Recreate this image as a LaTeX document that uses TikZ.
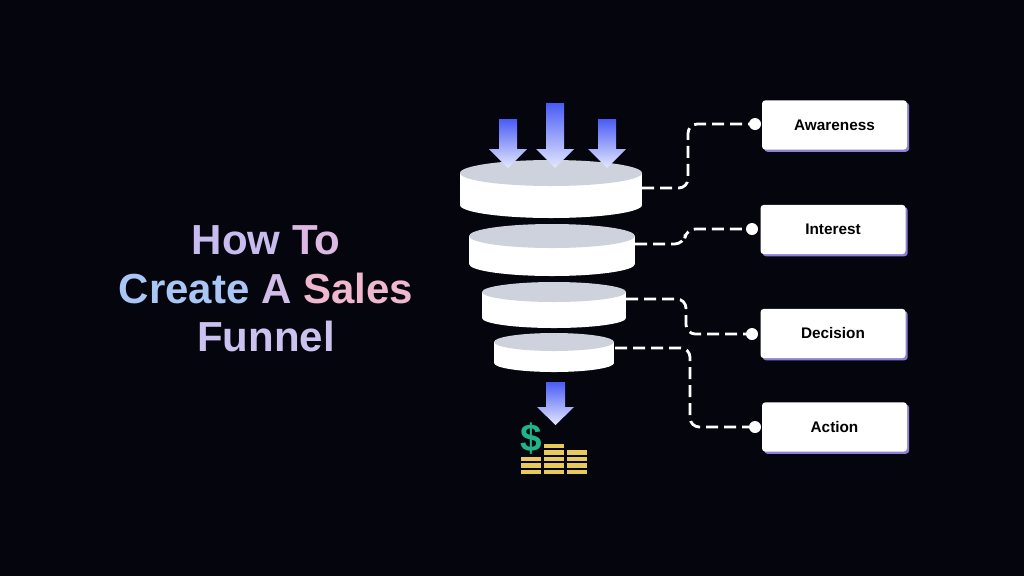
\documentclass[tikz,border=0pt]{standalone}
\usepackage{fontspec}
\setmainfont{Liberation Sans}
\usetikzlibrary{shadows}
\definecolor{bg}{HTML}{05050D}
\definecolor{diskTop}{HTML}{CDD2DC}
\definecolor{arrA}{HTML}{4A5CF5}
\definecolor{arrB}{HTML}{E4E8FF}
\definecolor{shc}{HTML}{8F7FD6}
\definecolor{green}{HTML}{1FB58A}
\definecolor{gold}{HTML}{E8C95A}
\begin{document}
\begin{tikzpicture}[x=0.75pt,y=-0.75pt,
  lbl/.style={draw=none,fill=white,rounded corners=2.5pt,minimum width=108.75pt,minimum height=37pt,
    font=\bfseries\fontsize{11.5pt}{13pt}\selectfont,
    general shadow={fill=shc,shadow xshift=1.6pt,shadow yshift=-1.6pt}},
  conn/.style={white,line width=2.1pt,dash pattern=on 9pt off 4.5pt,rounded corners=7pt},
  dot/.style={fill=white}]
\fill[bg] (0,0) rectangle (1024,576);
\useasboundingbox (0,0) rectangle (1024,576);
% title
\node[font=\bfseries\fontsize{31.5pt}{36.5pt}\selectfont,align=center] (title) at (266,289)
 {\textcolor[HTML]{C8BCEE}{How} \textcolor[HTML]{DDB8E2}{To}\\
  \textcolor[HTML]{A9C6F4}{Create} \textcolor[HTML]{D2BCE8}{A} \textcolor[HTML]{F0B8CE}{Sales}\\
  \textcolor[HTML]{CBC2F0}{Funnel}};
% disks
\foreach \n/\cx/\rx/\yt/\yb/\ry in {1/551/91/173/205/13, 2/552/83/236/264/12, 3/554/72/292/318/10, 4/554/60/342/363/9}{
  \fill[white] (\cx,\yb) ellipse [x radius=\rx, y radius=\ry];
  \fill[white] (\cx-\rx,\yt) rectangle (\cx+\rx,\yb);
  \fill[diskTop] (\cx,\yt) ellipse [x radius=\rx, y radius=\ry];
}
\coordinate (d1) at (642,188);
\coordinate (d2) at (635,244);
\coordinate (d3) at (626,299);
\coordinate (d4) at (615,348);
% arrows
\foreach \x/\t in {508/119, 555/103, 607/119}{
  \shade[top color=arrA,bottom color=arrB] (\x-9,\t) -- (\x+9,\t) -- (\x+9,149) -- (\x+19,149) -- (\x,168) -- (\x-19,149) -- (\x-9,149) -- cycle;
}
\shade[top color=arrA,bottom color=arrB] (546,382) -- (565,382) -- (565,407) -- (574,407) -- (555.5,425) -- (537,407) -- (546,407) -- cycle;
% coins
\node[text=green,font=\bfseries\fontsize{29pt}{29pt}\selectfont,inner sep=0] (dollar) at (531,439) {\$};
\foreach \x/\n in {521/3, 544/5, 567/4}{
  \foreach \i in {1,...,\n}{
    \fill[gold] (\x,475-\i*6.5+1) rectangle (\x+20,475-\i*6.5+5.5);
  }
}
% labels
\node[lbl] (aw) at (834.5,125) {Awareness};
\node[lbl] (in) at (833,229.5) {Interest};
\node[lbl] (de) at (833,333.5) {Decision};
\node[lbl] (ac) at (834.5,427) {Action};
\coordinate (paw) at (755,124);
\coordinate (pin) at (752,229);
\coordinate (pde) at (752,334);
\coordinate (pac) at (755,427);
\draw[conn] (d1) -- (688,188) -- (688,124) -- (paw);
\draw[conn] (d2) -- (684,244) -- (686,229) -- (pin);
\draw[conn] (d3) -- (686,299) -- (686,334) -- (pde);
\draw[conn] (d4) -- (690,348) -- (690,427) -- (pac);
\foreach \p in {paw,pin,pde,pac}{\fill[dot] (\p) circle [radius=6];}
\end{tikzpicture}
\end{document}
